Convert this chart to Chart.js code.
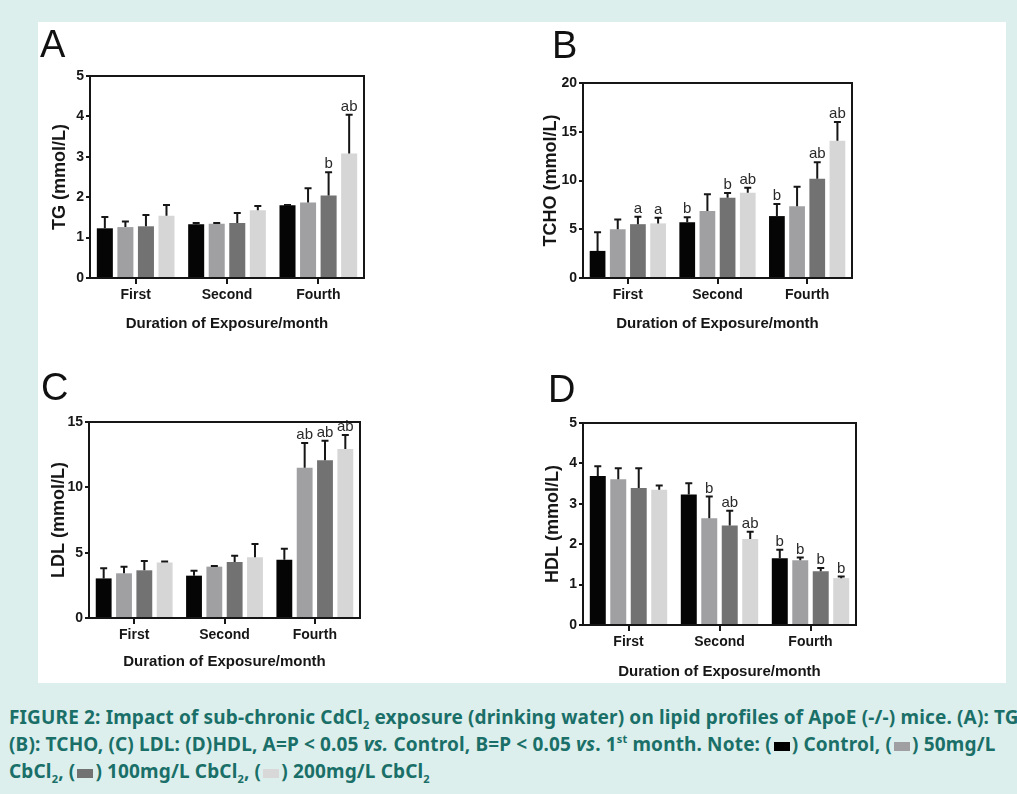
<!DOCTYPE html>
<html>
<head>
<meta charset="utf-8">
<script src="https://cdn.jsdelivr.net/npm/chart.js@4.4.0/dist/chart.umd.min.js"></script>
<style>
  html, body { margin: 0; padding: 0; }
  body {
    width: 1017px; height: 794px; overflow: hidden; position: relative;
    background: #ddefed;
  }
  #sheet { position: absolute; left: 38px; top: 22px; width: 968px; height: 661px; background: #fff; }
  canvas { position: absolute; }
  #caption {
    position: absolute; left: 9px; top: 704px; width: 1300px;
    font-family: "Noto Sans", "Open Sans", sans-serif; font-weight: bold;
    font-size: 19px; line-height: 27px; color: #1a6f68; white-space: nowrap;
    letter-spacing: 0.15px;
  }
  #caption sub, #caption sup { font-size: 11px; line-height: 0; position: relative; vertical-align: baseline; }
  #caption sub { top: 5px; }
  #caption sup { top: -8px; }
  .sw { display: inline-block; width: 16px; height: 9px; margin: 0 2px; vertical-align: 0px; }
</style>
</head>
<body>
<div id="sheet"></div>
<div id="caption">
  <div>FIGURE 2: Impact of sub-chronic CdCl<sub>2</sub> exposure (drinking water) on lipid profiles of ApoE (-/-) mice. (A): TG,</div>
  <div>(B): TCHO, (C) LDL: (D)HDL, A=P &lt; 0.05 <i>vs.</i> Control, B=P &lt; 0.05 <i>vs</i>. 1<sup>st</sup> month. Note: (<span class="sw" style="background:#000"></span>) Control, (<span class="sw" style="background:#a0a0a3"></span>) 50mg/L</div>
  <div>CbCl<sub>2</sub>, (<span class="sw" style="background:#727272"></span>) 100mg/L CbCl<sub>2</sub>, (<span class="sw" style="background:#d8d8d8"></span>) 200mg/L CbCl<sub>2</sub></div>
</div>
<script>
const months = ["First", "Second", "Fourth"];
const groupNames = ["Control", "50mg/L CdCl2", "100mg/L CdCl2", "200mg/L CdCl2"];

// one row per group, one value per month (mean, SD, significance letters)
const tgMean = [[1.23, 1.33, 1.80], [1.26, 1.34, 1.87], [1.28, 1.36, 2.04], [1.54, 1.68, 3.08]];
const tgSd = [[0.28, 0.03, 0.01], [0.14, 0.02, 0.35], [0.28, 0.25, 0.58], [0.27, 0.10, 0.96]];
const tgMarks = [["", "", ""], ["", "", ""], ["", "", "b"], ["", "", "ab"]];

const tchoMean = [[2.78, 5.73, 6.35], [5.0, 6.86, 7.37], [5.52, 8.23, 10.19], [5.6, 8.75, 14.07]];
const tchoSd = [[1.92, 0.51, 1.23], [1.0, 1.74, 2.0], [0.76, 0.48, 1.68], [0.57, 0.51, 1.92]];
const tchoMarks = [["", "b", "b"], ["", "", ""], ["a", "b", "ab"], ["a", "ab", "ab"]];

const ldlMean = [[3.03, 3.24, 4.45], [3.42, 3.93, 11.5], [3.65, 4.29, 12.08], [4.24, 4.65, 12.93]];
const ldlSd = [[0.77, 0.38, 0.85], [0.51, 0.05, 1.9], [0.72, 0.47, 1.49], [0.08, 1.01, 1.07]];
const ldlMarks = [["", "", ""], ["", "", "ab"], ["", "", "ab"], ["", "", "ab"]];

const hdlMean = [[3.69, 3.23, 1.65], [3.61, 2.64, 1.60], [3.39, 2.46, 1.33], [3.35, 2.13, 1.16]];
const hdlSd = [[0.24, 0.28, 0.21], [0.27, 0.54, 0.07], [0.49, 0.37, 0.08], [0.10, 0.18, 0.04]];
const hdlMarks = [["", "", "b"], ["", "b", "b"], ["", "ab", "b"], ["", "ab", "b"]];

const barColors = ["#050505", "#a0a0a3", "#727272", "#d6d6d6"];
const FONT = '"Liberation Sans", Arial, sans-serif';
const INK = "#161616";

const panels = [
  { letter: "A", title: "TG (mmol/L)", yMax: 5, yStep: 1, mean: tgMean, sd: tgSd, marks: tgMarks,
    box: { x: 38, y: 22, w: 345, h: 320 }, area: { l: 90, t: 76, r: 364, b: 278 },
    yTitleX: 60, xTitleY: 324, letterPos: { x: 40, y: 57 } },
  { letter: "B", title: "TCHO (mmol/L)", yMax: 20, yStep: 5, mean: tchoMean, sd: tchoSd, marks: tchoMarks,
    box: { x: 520, y: 22, w: 345, h: 320 }, area: { l: 583, t: 83, r: 852, b: 278 },
    yTitleX: 551, xTitleY: 324, letterPos: { x: 552, y: 58 } },
  { letter: "C", title: "LDL (mmol/L)", yMax: 15, yStep: 5, mean: ldlMean, sd: ldlSd, marks: ldlMarks,
    box: { x: 38, y: 362, w: 345, h: 320 }, area: { l: 89, t: 422, r: 360, b: 618 },
    yTitleX: 59, xTitleY: 662, letterPos: { x: 41, y: 400 } },
  { letter: "D", title: "HDL (mmol/L)", yMax: 5, yStep: 1, mean: hdlMean, sd: hdlSd, marks: hdlMarks,
    box: { x: 520, y: 362, w: 345, h: 320 }, area: { l: 583, t: 423, r: 856, b: 625 },
    yTitleX: 553, xTitleY: 672, letterPos: { x: 548, y: 402 } },
];

// error bars (upper only), significance letters, box frame and panel letter
const decorations = {
  id: "decorations",
  afterDatasetsDraw(chart, args, opts) {
    const ctx = chart.ctx;
    const y = chart.scales.y;
    const area = chart.chartArea;
    ctx.save();
    chart.data.datasets.forEach((ds, di) => {
      const meta = chart.getDatasetMeta(di);
      meta.data.forEach((bar, i) => {
        const top = y.getPixelForValue(ds.data[i] + ds.sd[i]);
        ctx.strokeStyle = INK;
        ctx.lineWidth = 2;
        ctx.beginPath();
        ctx.moveTo(bar.x, bar.y);
        ctx.lineTo(bar.x, top);
        ctx.moveTo(bar.x - 3.5, top);
        ctx.lineTo(bar.x + 3.5, top);
        ctx.stroke();
        if (ds.marks[i]) {
          ctx.fillStyle = "#2a2a2a";
          ctx.font = "15px " + FONT;
          ctx.textAlign = "center";
          ctx.textBaseline = "alphabetic";
          ctx.fillText(ds.marks[i], bar.x, top - 4);
        }
      });
    });
    ctx.strokeStyle = INK;
    ctx.lineWidth = 2;
    ctx.strokeRect(area.left, area.top, area.right - area.left, area.bottom - area.top);
    ctx.fillStyle = "#111";
    ctx.font = "38px " + FONT;
    ctx.textAlign = "left";
    ctx.textBaseline = "alphabetic";
    ctx.fillText(opts.letter, opts.x, opts.y);
    ctx.restore();
  }
};

function makePanel(p) {
  const canvas = document.createElement("canvas");
  canvas.width = p.box.w;
  canvas.height = p.box.h;
  canvas.style.left = p.box.x + "px";
  canvas.style.top = p.box.y + "px";
  canvas.style.width = p.box.w + "px";
  canvas.style.height = p.box.h + "px";
  document.body.append(canvas);

  const yAxisW = p.area.l - p.box.x;
  const xAxisH = p.box.y + p.box.h - p.area.b;
  const yTitlePad = p.yTitleX - p.box.x - 18 * 1.2 / 2;
  const xTitlePad = p.box.y + p.box.h - p.xTitleY - 15 * 1.2 / 2;

  const datasets = groupNames.map((name, g) => ({
    label: name,
    data: p.mean[g],
    sd: p.sd[g],
    marks: p.marks[g],
    backgroundColor: barColors[g],
    borderWidth: 0,
    categoryPercentage: 0.9,
    barPercentage: 0.78,
  }));

  new Chart(canvas, {
    type: "bar",
    data: { labels: months, datasets: datasets },
    options: {
      responsive: false,
      animation: false,
      devicePixelRatio: 1,
      layout: { padding: { top: p.area.t - p.box.y, right: p.box.x + p.box.w - p.area.r, left: 0, bottom: 0 } },
      plugins: {
        legend: { display: false },
        tooltip: { enabled: false },
        decorations: { letter: p.letter, x: p.letterPos.x - p.box.x, y: p.letterPos.y - p.box.y },
      },
      scales: {
        x: {
          type: "category",
          offset: true,
          afterFit: (s) => { s.height = xAxisH; },
          grid: { offset: false, drawOnChartArea: false, drawTicks: true, tickLength: 6, color: INK, lineWidth: 2 },
          border: { display: false },
          ticks: { color: INK, padding: 3, font: { family: FONT, size: 14, weight: "bold" } },
          title: { display: true, text: "Duration of Exposure/month", color: INK,
                   padding: { top: 0, bottom: xTitlePad }, font: { family: FONT, size: 15, weight: "bold" } },
        },
        y: {
          min: 0,
          max: p.yMax,
          afterFit: (s) => { s.width = yAxisW; },
          grid: { drawOnChartArea: false, drawTicks: true, tickLength: 4, color: INK, lineWidth: 2 },
          border: { display: false },
          ticks: { stepSize: p.yStep, color: INK, padding: 2, font: { family: FONT, size: 14, weight: "bold" } },
          title: { display: true, text: p.title, color: INK,
                   padding: { top: yTitlePad, bottom: 0 }, font: { family: FONT, size: 18, weight: "bold" } },
        },
      },
    },
    plugins: [decorations],
  });
}

panels.forEach(makePanel);
</script>
</body>
</html>
